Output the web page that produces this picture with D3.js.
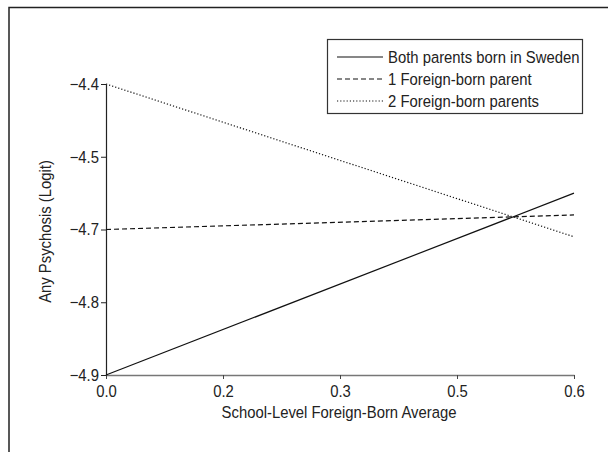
<!DOCTYPE html>
<html>
<head>
<meta charset="utf-8">
<script src="https://cdn.jsdelivr.net/npm/d3@7"></script>
<style>
  body { margin: 0; background: #fff; }
  svg text { font-family: "Liberation Sans Narrow", "Arial Narrow", "Liberation Sans", sans-serif; fill: #222; }
</style>
</head>
<body>
<div id="chart"></div>
<script>
// tick values as printed on the original axes (spacing is even, labels are not)
const xTicks = [0.0, 0.2, 0.3, 0.5, 0.6];
const xTickLabels = ['0.0', '0.2', '0.3', '0.5', '0.6'];
const yTicks = [-4.9, -4.8, -4.7, -4.5, -4.4];
const yTickLabels = ['\u22124.9', '\u22124.8', '\u22124.7', '\u22124.5', '\u22124.4'];

const seriesNames = ['Both parents born in Sweden', '1 Foreign-born parent', '2 Foreign-born parents'];
const xValues = [0.0, 0.6];
const bothSweden = [-4.90, -4.60];
const oneForeign = [-4.70, -4.66];
const twoForeign = [-4.40, -4.71];

const WIDTH = 608;
const HEIGHT = 452;
const X0 = 106, X1 = 574;
const Y0 = 375, Y1 = 84;
const FONT = 16.5;
const SQUEEZE = 0.9; // fake a condensed face

const svg = d3.select('#chart').append('svg')
  .attr('width', WIDTH)
  .attr('height', HEIGHT);

// frame (top + left only)
svg.append('path')
  .attr('d', `M9,${HEIGHT} V7.5 H${WIDTH}`)
  .attr('fill', 'none')
  .attr('stroke', '#222')
  .attr('stroke-width', 1.5);

// even spacing between uneven labels -> polylinear scales
const x = d3.scaleLinear()
  .domain(xTicks)
  .range(xTicks.map((d, i) => X0 + (X1 - X0) * i / (xTicks.length - 1)));

const y = d3.scaleLinear()
  .domain(yTicks)
  .range(yTicks.map((d, i) => Y0 + (Y1 - Y0) * i / (yTicks.length - 1)));

const xAxis = d3.axisBottom(x)
  .tickValues(xTicks)
  .tickFormat((d, i) => xTickLabels[i])
  .tickSize(4)
  .tickSizeOuter(0);

const yAxis = d3.axisLeft(y)
  .tickValues(yTicks)
  .tickFormat((d, i) => yTickLabels[i])
  .tickSize(5)
  .tickSizeOuter(0);

const gx = svg.append('g')
  .attr('transform', `translate(0,${Y0})`)
  .call(xAxis);
gx.select('.domain').attr('stroke', '#777').attr('stroke-width', 1.5);
gx.selectAll('.tick line').attr('stroke', '#444');
gx.selectAll('.tick text')
  .attr('font-size', FONT)
  .attr('dy', '0.88em')
  .attr('transform', `scale(${SQUEEZE},1)`)
  .style('font-family', null);

const gy = svg.append('g')
  .attr('transform', `translate(${X0},0)`)
  .call(yAxis);
gy.select('.domain').attr('stroke', '#222').attr('stroke-width', 1.2);
gy.selectAll('.tick line').attr('stroke', '#222');
gy.selectAll('.tick text')
  .attr('font-size', FONT)
  .attr('x', -7 / SQUEEZE)
  .attr('transform', `scale(${SQUEEZE},1)`)
  .style('font-family', null);

svg.append('text')
  .attr('transform', `translate(${(X0 + X1) / 2 - 1},418) scale(${SQUEEZE},1)`)
  .attr('text-anchor', 'middle')
  .attr('font-size', FONT)
  .text('School-Level Foreign-Born Average');

svg.append('text')
  .attr('transform', `translate(51,${(Y0 + Y1) / 2 + 2}) rotate(-90) scale(${SQUEEZE},1)`)
  .attr('text-anchor', 'middle')
  .attr('font-size', FONT)
  .text('Any Psychosis (Logit)');

const dashes = ['none', '5,3', '1.2,2'];
const series = [bothSweden, oneForeign, twoForeign];

const line = d3.line()
  .x(d => x(d[0]))
  .y(d => y(d[1]));

svg.selectAll('path.series')
  .data(series)
  .enter()
  .append('path')
  .attr('class', 'series')
  .attr('d', vals => line(xValues.map((xv, i) => [xv, vals[i]])))
  .attr('fill', 'none')
  .attr('stroke', '#111')
  .attr('stroke-width', 1.2)
  .attr('stroke-dasharray', (d, i) => dashes[i]);

// legend
const legend = svg.append('g').attr('transform', 'translate(327,39)');
legend.append('rect')
  .attr('x', 0.5)
  .attr('y', 0.5)
  .attr('width', 255)
  .attr('height', 74)
  .attr('fill', '#fff')
  .attr('stroke', '#333')
  .attr('stroke-width', 1.2);

const rows = legend.selectAll('g.row')
  .data(seriesNames)
  .enter()
  .append('g')
  .attr('class', 'row')
  .attr('transform', (d, i) => `translate(0,${18 + i * 22})`);

rows.append('line')
  .attr('x1', 10)
  .attr('x2', 56)
  .attr('stroke', '#111')
  .attr('stroke-width', 1.2)
  .attr('stroke-dasharray', (d, i) => dashes[i]);

rows.append('text')
  .attr('transform', `translate(61,0) scale(${SQUEEZE},1)`)
  .attr('dy', '0.35em')
  .attr('font-size', FONT)
  .text(d => d);
</script>
</body>
</html>
